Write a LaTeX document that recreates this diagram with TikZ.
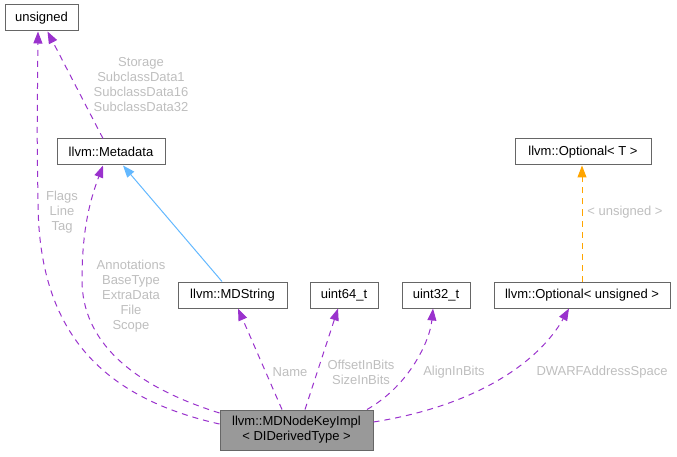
\documentclass[tikz,border=0pt]{standalone}
\usepackage{fontspec}
\setmainfont{Liberation Sans}
\usepackage{xcolor}
\usetikzlibrary{arrows.meta}
\definecolor{edgepurple}{HTML}{9A32CD}
\definecolor{edgeblue}{HTML}{63B8FF}
\definecolor{edgeorange}{HTML}{FFA500}
\definecolor{boxline}{HTML}{666666}
\definecolor{boxfill}{HTML}{999999}
\definecolor{lblgray}{HTML}{BEBEBE}

\begin{document}
\begin{tikzpicture}[
    x=1pt,y=-1pt,
    >={Triangle[length=12pt,width=9pt]},
    cls/.style={rectangle,draw=boxline,fill=white,minimum height=26pt,inner sep=0pt,
                line width=1pt,font=\fontsize{13}{15}\selectfont},
    mainbox/.style={cls,fill=boxfill,align=center,minimum height=40pt},
    lbl/.style={font=\fontsize{13}{15}\selectfont,text=lblgray,align=center,inner sep=0pt},
    usage/.style={->,edgepurple,dash pattern=on 6pt off 5pt,line width=1pt},
    inherit/.style={->,edgeblue,line width=1pt},
    templ/.style={->,edgeorange,dash pattern=on 6pt off 5pt,line width=1pt},
]
\useasboundingbox (0,0) rectangle (677,457);

% ---- classes ----
\node[cls,minimum width=73pt] (unsigned) at (41.5,18) {unsigned};
\node[cls,minimum width=108pt] (metadata) at (111,152) {llvm::Metadata};
\node[cls,minimum width=136pt] (optT) at (583,152) {llvm::Optional< T >};
\node[cls,minimum width=109pt] (mdstring) at (232.5,295) {llvm::MDString};
\node[cls,minimum width=68pt] (uintsf) at (344,295) {uint64\_t};
\node[cls,minimum width=68pt] (uinttt) at (436,295) {uint32\_t};
\node[cls,minimum width=176pt] (optuns) at (582,295) {llvm::Optional< unsigned >};
\node[mainbox,minimum width=153pt] (keyimpl) at (296.5,430)
  {llvm::MDNodeKeyImpl\\< DIDerivedType >};

% ---- member edges into unsigned ----
\draw[usage] ([yshift=6pt]keyimpl.west) .. controls (90,395) and (38,320) .. (38,200)
  .. controls (37,140) .. ([xshift=-3.5pt]unsigned.south);
\node[lbl] (lflags) at (62,212) {Flags\\Line\\Tag};
\draw[usage] ([xshift=-8pt]metadata.north) -- ([xshift=6pt]unsigned.south);
\node[lbl] (lstorage) at (141,85) {Storage\\SubclassData1\\SubclassData16\\SubclassData32};

% ---- edges into llvm::Metadata ----
\draw[usage] ([yshift=17pt]keyimpl.west) .. controls (130,385) and (82,340) .. (82,280)
  .. controls (82,230) and (90,200) .. ([xshift=-8pt]metadata.south);
\node[lbl] (lannot) at (131,296) {Annotations\\BaseType\\ExtraData\\File\\Scope};
\draw[inherit] ([xshift=-10.5pt]mdstring.north) -- ([xshift=12pt]metadata.south);

% ---- remaining members ----
\draw[usage] ([xshift=-14.5pt]keyimpl.north) -- ([xshift=5.5pt]mdstring.south);
\node[lbl] (lname) at (290,372) {Name};
\draw[usage] ([xshift=8.5pt]keyimpl.north) -- ([xshift=-6pt]uintsf.south);
\node[lbl] (loffset) at (361,372) {OffsetInBits\\SizeInBits};
\draw[usage] ([xshift=70.5pt]keyimpl.north) .. controls (410,385) and (430,340)
  .. ([xshift=-3pt]uinttt.south);
\node[lbl] (lalign) at (454,372) {AlignInBits};
\draw[usage] ([yshift=8pt]keyimpl.east) .. controls (480,405) and (540,360)
  .. ([xshift=-13pt]optuns.south);
\node[lbl] (ldwarf) at (602,372) {DWARFAddressSpace};

% ---- template instance ----
\draw[templ] (optuns.north) -- (optuns.north |- optT.south);
\node[lbl] (ltempl) at (625,212) {< unsigned >};

\end{tikzpicture}
\end{document}
